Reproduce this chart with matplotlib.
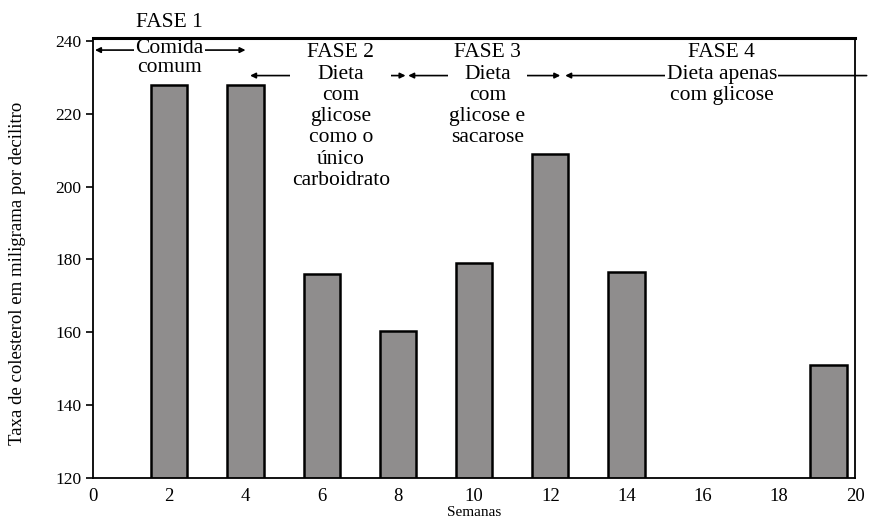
import matplotlib.pyplot as plt

plt.rcParams['font.family'] = ['Liberation Serif', 'DejaVu Serif']

# semanas e taxa de colesterol (mg/dl)
semanas = [2, 4, 6, 8, 10, 12, 14, 19.3]
colesterol = [228, 228, 176, 160.5, 179, 209, 176.5, 151]

yticks = [120, 140, 160, 180, 200, 220, 240]
xticks = [0, 2, 4, 6, 8, 10, 12, 14, 16, 18, 20]

# fases: (inicio, fim, centro do texto, titulo, texto)
fases = [
    (0.05, 4.0, 2.0, 'FASE 1', 'Comida\ncomum'),
    (4.12, 8.2, 6.5, 'FASE 2', 'Dieta\ncom\nglicose\ncomo o\núnico\ncarboidrato'),
    (8.27, 12.26, 10.35, 'FASE 3', 'Dieta\ncom\nglicose e\nsacarose'),
    (12.39, 20.3, 16.5, 'FASE 4', 'Dieta apenas\ncom glicose'),
]

fig = plt.figure(figsize=(8.7, 5.25), dpi=100)
ax = fig.add_axes([0.107, 0.0895, 0.876, 0.838])

ax.bar(semanas, colesterol, width=0.95, bottom=0, color='#8f8d8d',
       edgecolor='black', linewidth=1.8, zorder=2)

ax.set_xlim(0, 20)
ax.set_ylim(120, 240.8)
ax.set_yticks(yticks)
ax.set_xticks(xticks)
ax.tick_params(axis='y', direction='out', length=5, width=1.2, labelsize=12.5)
ax.tick_params(axis='x', length=0, labelsize=13.5, pad=7)
for s in ax.spines.values():
    s.set_linewidth(1.3)
    s.set_zorder(6)
ax.spines['top'].set_linewidth(2.2)

ax.set_ylabel('Taxa de colesterol em miligrama por decilitro', fontsize=13.5)
ax.yaxis.set_label_coords(-0.088, 0.465)
ax.set_xlabel('Semanas', fontsize=11, labelpad=1)

for i, (x0, x1, xc, titulo, texto) in enumerate(fases):
    if i == 0:
        y_arrow = 237.5
        y_title = 245
        ls = 1.0
    else:
        y_arrow = 230.5
        y_title = 236.8
        ls = 1.16
    style = '<|-|>' if i < 3 else '-|>'
    ax.annotate('', xy=(x0, y_arrow), xytext=(x1, y_arrow),
                arrowprops=dict(arrowstyle=style, lw=1.2, color='black',
                                mutation_scale=8, shrinkA=0, shrinkB=0),
                annotation_clip=False, zorder=3)
    ax.text(xc, y_title, titulo, ha='center', va='center', fontsize=15.5, clip_on=False)
    ax.text(xc, y_arrow + 3.0, texto, ha='center', va='top', fontsize=15.5,
            linespacing=ls, zorder=4,
            bbox=dict(facecolor='white', edgecolor='none', pad=1.0))

fig.savefig('out.png', dpi=100)
